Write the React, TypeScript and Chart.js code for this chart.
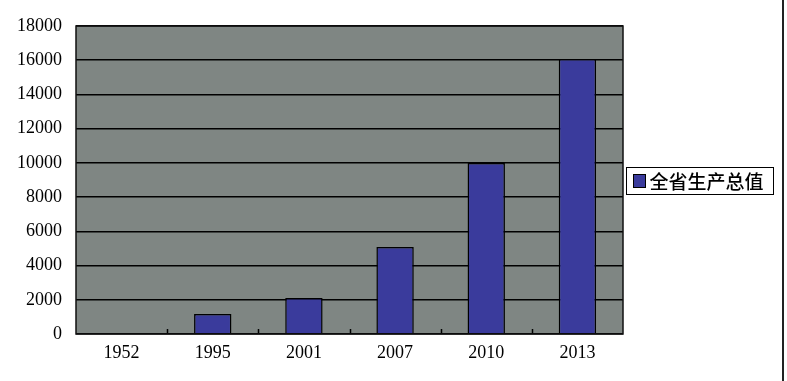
import React, { useEffect, useRef } from "react";
import { Chart, registerables } from "chart.js";

Chart.register(...registerables);

const years = ["1952", "1995", "2001", "2007", "2010", "2013"];
const gdpValues = [0, 1170, 2100, 5080, 9990, 16070];
const seriesLabel = "全省生产总值";
const yTickMax = 18000;
const yTickStep = 2000;

const BAR_COLOR = "#3a3b9c";
const PLOT_BG = "#7f8683";

const decorPlugin = {
  id: "decor",
  beforeDraw(chart: any) {
    const { ctx, chartArea } = chart;
    ctx.save();
    ctx.fillStyle = PLOT_BG;
    ctx.fillRect(chartArea.left, chartArea.top, chartArea.right - chartArea.left, chartArea.bottom - chartArea.top);
    ctx.restore();
  },
  beforeDatasetsDraw(chart: any) {
    const { ctx, chartArea } = chart;
    const xs = chart.scales.x;
    ctx.save();
    ctx.strokeStyle = "#000";
    ctx.lineWidth = 1.5;
    for (let i = 1; i < years.length; i++) {
      const x = Math.round((xs.getPixelForValue(i - 1) + xs.getPixelForValue(i)) / 2) + 0.5;
      ctx.beginPath();
      ctx.moveTo(x, chartArea.bottom);
      ctx.lineTo(x, chartArea.bottom - 5);
      ctx.stroke();
    }
    ctx.restore();
  },
  afterDraw(chart: any) {
    const { ctx, chartArea } = chart;
    ctx.save();
    // plot border
    ctx.strokeStyle = "#111";
    ctx.lineWidth = 1.5;
    ctx.strokeRect(chartArea.left, chartArea.top, chartArea.right - chartArea.left, chartArea.bottom - chartArea.top);

    // legend
    const ds = chart.data.datasets[0];
    const cy = (chartArea.top + chartArea.bottom) / 2;
    const lx = chartArea.right + 3.5;
    const ly = Math.round(cy - 13) + 0.5;
    const lw = 147;
    const lh = 27;
    ctx.fillStyle = "#fff";
    ctx.fillRect(lx, ly, lw, lh);
    ctx.strokeStyle = "#000";
    ctx.lineWidth = 1;
    ctx.strokeRect(lx, ly, lw, lh);
    ctx.fillStyle = ds.backgroundColor;
    ctx.fillRect(lx + 7, ly + 7, 12, 13);
    ctx.strokeRect(lx + 7, ly + 7, 12, 13);
    ctx.fillStyle = "#000";
    ctx.font = "500 19px 'Noto Sans CJK SC', sans-serif";
    ctx.textBaseline = "middle";
    ctx.textAlign = "left";
    ctx.fillText(ds.label, lx + 23, ly + lh / 2 + 1);

    // right-hand frame line
    ctx.strokeStyle = "#222";
    ctx.lineWidth = 2;
    ctx.beginPath();
    ctx.moveTo(783, 0);
    ctx.lineTo(783, chart.height);
    ctx.stroke();
    ctx.restore();
  },
};

export default function App() {
  const ref = useRef<HTMLCanvasElement | null>(null);
  useEffect(() => {
    if (!ref.current) return;
    const chart = new Chart(ref.current, {
      type: "bar",
      data: {
        labels: years,
        datasets: [
          {
            label: seriesLabel,
            data: gdpValues,
            backgroundColor: BAR_COLOR,
            borderColor: "#000",
            borderWidth: 1.5,
            borderSkipped: "start",
            categoryPercentage: 1,
            barPercentage: 0.41,
          },
        ],
      },
      options: {
        animation: false,
        responsive: true,
        maintainAspectRatio: false,
        layout: { padding: { top: 26, right: 164, left: 0, bottom: 0 } },
        plugins: { legend: { display: false }, tooltip: { enabled: false } },
        scales: {
          x: {
            afterFit: (s: any) => {
              s.height = 47;
            },
            grid: { display: false, drawTicks: false },
            border: { display: false },
            ticks: {
              color: "#000",
              padding: 8,
              font: { family: "'Liberation Serif', 'Times New Roman', serif", size: 18 },
            },
          },
          y: {
            min: 0,
            max: yTickMax,
            afterFit: (s: any) => {
              s.width = 76;
            },
            grid: { color: "#000", lineWidth: 1.5, drawTicks: false },
            border: { display: false },
            ticks: {
              stepSize: yTickStep,
              color: "#000",
              padding: 14,
              callback: (v: any) => String(v),
              font: { family: "'Liberation Serif', 'Times New Roman', serif", size: 18 },
            },
          },
        },
      },
      plugins: [decorPlugin],
    });
    return () => chart.destroy();
  }, []);
  return (
    <div style={{ position: "fixed", left: 0, top: 0, width: 787, height: 381, background: "#fff" }}>
      <canvas ref={ref} />
    </div>
  );
}
